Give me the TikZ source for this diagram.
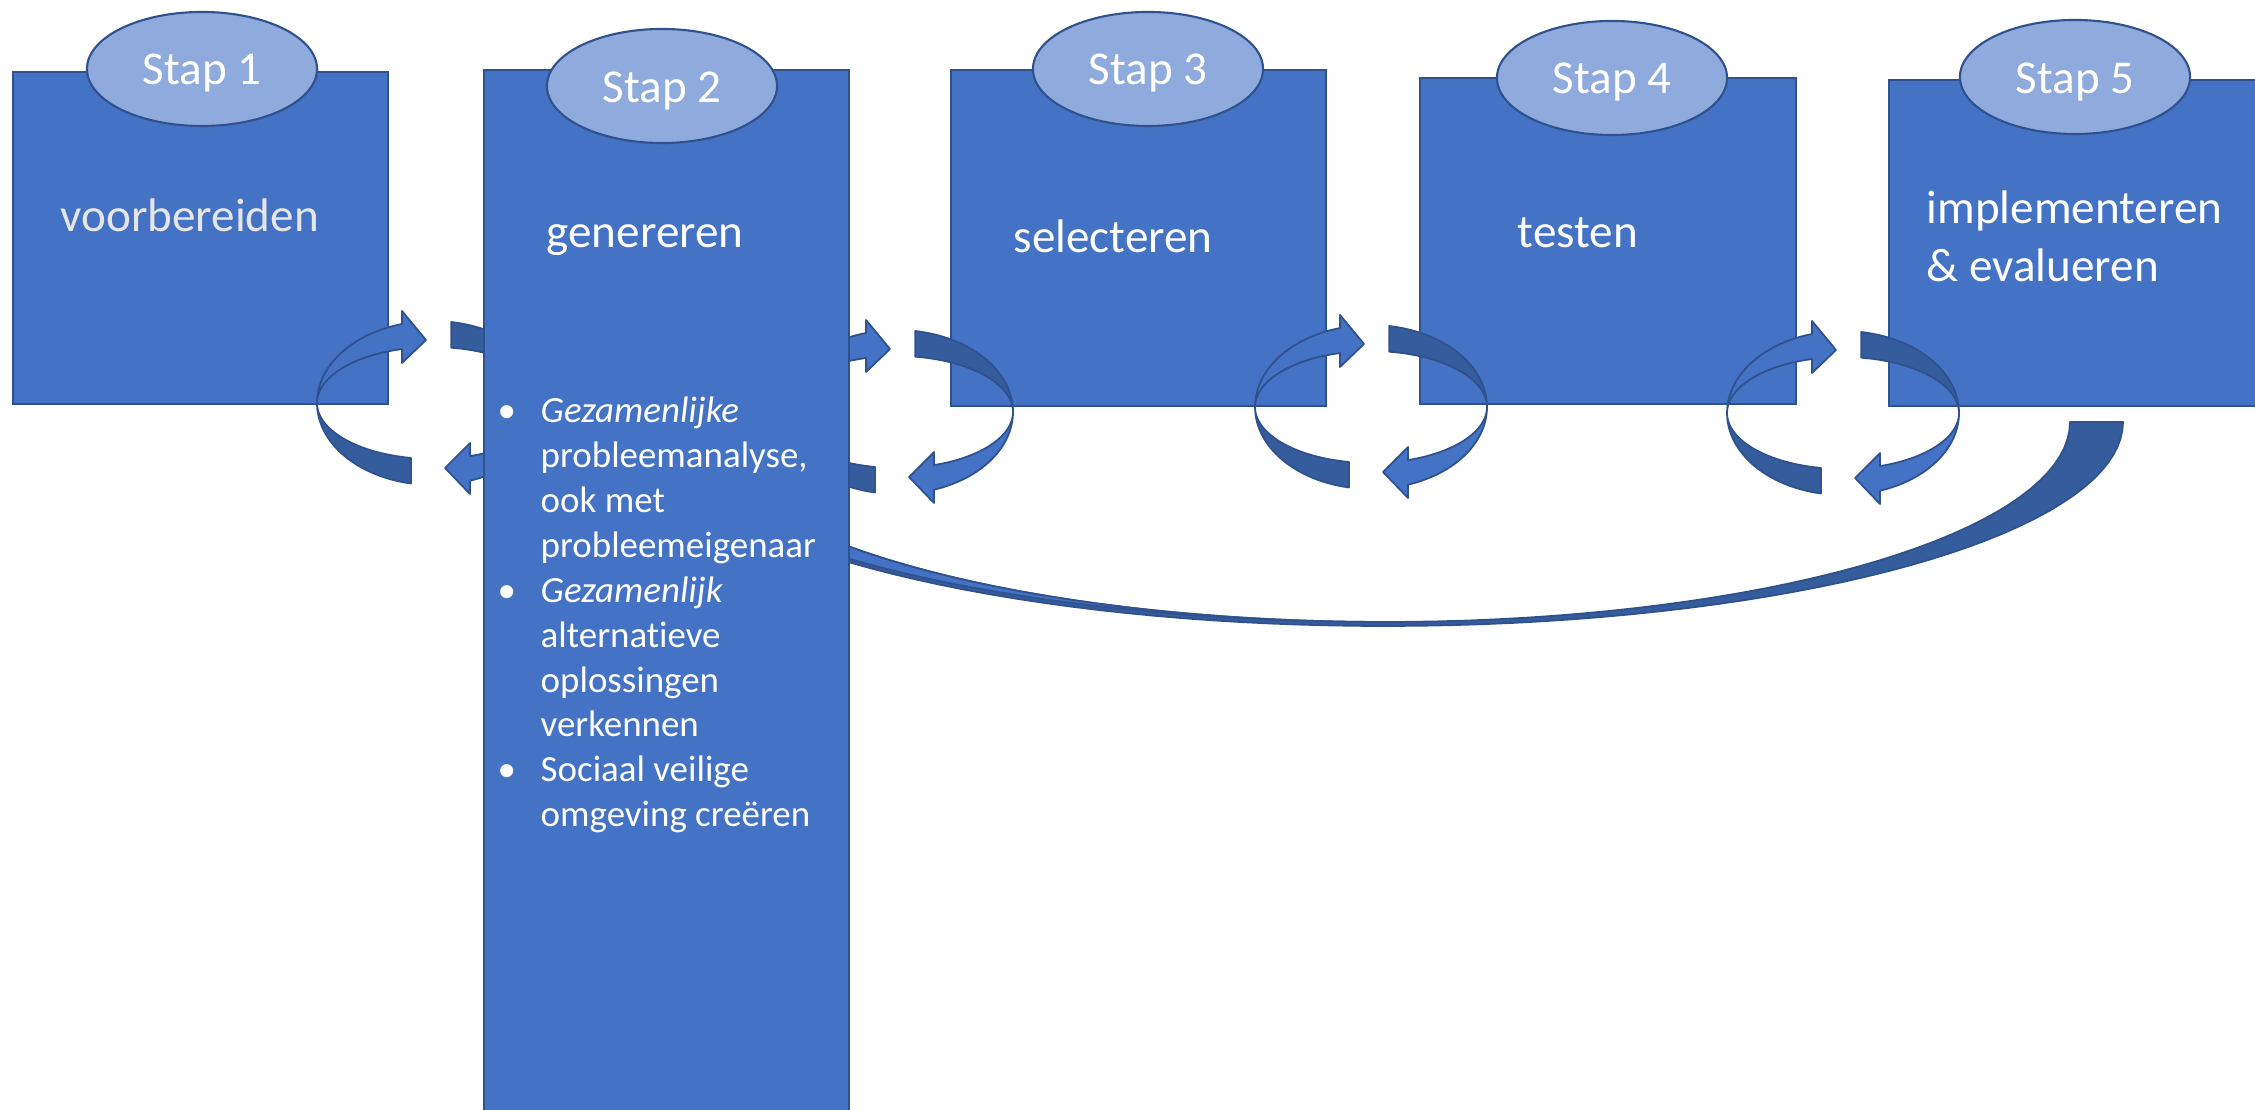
\documentclass[tikz,border=0pt]{standalone}
\usepackage{fontspec}
\setmainfont{Carlito}[Ligatures=NoCommon]
\usetikzlibrary{shapes.geometric}
\definecolor{vlak}{HTML}{4472C4}
\definecolor{rand}{HTML}{2F528F}
\definecolor{ovaal}{HTML}{8FAADC}
\definecolor{donker}{HTML}{355C9C}
\definecolor{grijs}{HTML}{E7E6E6}

\begin{document}
\begin{tikzpicture}[x=0.01cm,y=-0.01cm,
  box/.style={draw=rand,fill=vlak,line width=0.6pt,anchor=north west,inner sep=0pt},
  stap/.style={ellipse,draw=rand,fill=ovaal,line width=0.6pt,minimum width=2.3cm,minimum height=1.14cm,
    inner sep=0pt,text=white,font=\fontsize{13.4}{16}\selectfont,text height=0.42cm,text depth=0.1cm},
  lbl/.style={text=white,anchor=base west,inner sep=0pt,font=\fontsize{13.4}{16.4}\selectfont},
  lite/.style={draw=rand,fill=vlak,line width=0.5pt,line join=round},
  back/.style={draw=rand,fill=donker,line width=0.5pt,line join=round}]
  \useasboundingbox (0,0) rectangle (2255,1110);

  \node[box,minimum width=3.75cm,minimum height=3.32cm] (b1) at (12,71) {};
  \node[box,minimum width=3.75cm,minimum height=3.36cm] (b3) at (950,69) {};
  \node[box,minimum width=3.76cm,minimum height=3.26cm] (b4) at (1419,77) {};
  \node[box,minimum width=3.80cm,minimum height=3.26cm] (b5) at (1888,79) {};

  % terug van stap 5 naar stap 2
  \filldraw[back] plot[domain=0:138.8,samples=60] ({1385+738*cos(\x)},{422+204*sin(\x)})
    -- plot[domain=144.1:0,samples=60] ({1385+685*cos(\x)},{422+200*sin(\x)}) -- cycle;
  \filldraw[lite] plot[domain=90:139,samples=40] ({1385+735*cos(\x)},{422+200*sin(\x)})
    -- plot[domain=144.1:90,samples=40] ({1385+685*cos(\x)},{422+200*sin(\x)}) -- cycle;

  % draaiende pijlen tussen de stappen
  \foreach \cx/\cy in {433/403,897/412,1371/407,1843/413} {
    \filldraw[back] plot[domain=180:101,samples=30] ({\cx+116*cos(\x)},{\cy+82*sin(\x)})
      -- plot[domain=101:180,samples=30] ({\cx+116*cos(\x)},{\cy+56*sin(\x)}) -- cycle;
    \filldraw[lite] plot[domain=180:254.5,samples=30] ({\cx+116*cos(\x)},{\cy+82*sin(\x)})
      -- ({\cx-31},{\cy-92}) -- ({\cx-7},{\cy-63}) -- ({\cx-31},{\cy-40})
      -- plot[domain=254.5:180,samples=30] ({\cx+116*cos(\x)},{\cy+56*sin(\x)}) -- cycle;
    \filldraw[back] plot[domain=279:360,samples=30] ({\cx+116*cos(\x)},{\cy+82*sin(\x)})
      -- plot[domain=360:279,samples=30] ({\cx+116*cos(\x)},{\cy+56*sin(\x)}) -- cycle;
    \filldraw[lite] plot[domain=0:71.4,samples=30] ({\cx+116*cos(\x)},{\cy+82*sin(\x)})
      -- ({\cx+37},{\cy+91}) -- ({\cx+12},{\cy+65}) -- ({\cx+37},{\cy+40})
      -- plot[domain=71.4:0,samples=30] ({\cx+116*cos(\x)},{\cy+56*sin(\x)}) -- cycle;
  }

  \node[box,minimum width=3.65cm,minimum height=10.6cm] (b2) at (483,69) {};

  \node[stap] (s1) at (202,69) {Stap 1};
  \node[stap] (s2) at (662,86) {Stap 2};
  \node[stap] (s3) at (1148,69) {Stap 3};
  \node[stap] (s4) at (1612,78) {Stap 4};
  \node[stap] (s5) at (2075,77) {Stap 5};

  \node[lbl,text=grijs] (t1) at (60,232) {voorbereiden};
  \node[lbl] (t2) at (546,248) {genereren};
  \node[lbl] (t3) at (1013,253) {selecteren};
  \node[lbl] (t4) at (1517,248) {testen};
  \node[lbl] (t5) at (1926,224) {\begin{tabular}[t]{@{}l@{}}implementeren\\ \& evalueren\end{tabular}};

  \node[lbl,font=\fontsize{10.5}{12.75}\selectfont] (lijst) at (497,423) {%
    \begin{tabular}[t]{@{}p{0.43cm}@{}l@{}}
      \textbullet & \textit{Gezamenlijke}\\
      & probleemanalyse,\\
      & ook met\\
      & probleemeigenaar\\
      \textbullet & \textit{Gezamenlijk}\\
      & alternatieve\\
      & oplossingen\\
      & verkennen\\
      \textbullet & Sociaal veilige\\
      & omgeving creëren
    \end{tabular}};
\end{tikzpicture}
\end{document}
